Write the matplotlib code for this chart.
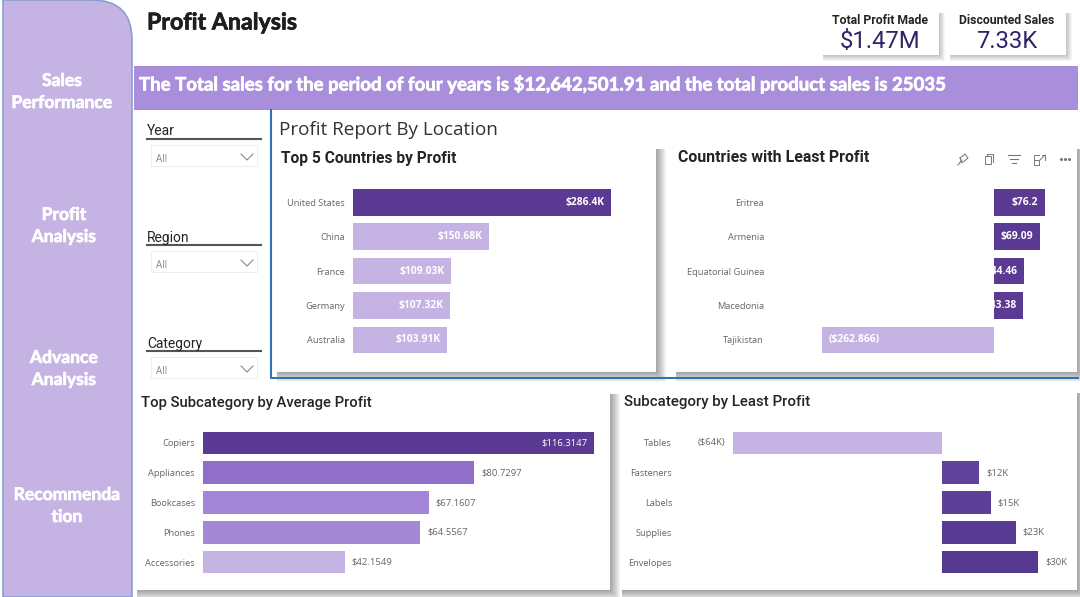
import matplotlib
matplotlib.use("Agg")
import matplotlib.pyplot as plt
import matplotlib.patheffects as pe
from matplotlib.patches import Rectangle, PathPatch
from matplotlib.path import Path

plt.rcParams["font.family"] = ["Open Sans", "DejaVu Sans"]

W, H = 1080, 597
DARK = "#5A3A92"
LIGHT = "#C5B4E3"

# data
top_countries = ["United States", "China", "France", "Germany", "Australia"]
top_profit = [286.4, 150.68, 109.03, 107.32, 103.91]
top_labels = ["$286.4K", "$150.68K", "$109.03K", "$107.32K", "$103.91K"]
top_colors = [DARK, LIGHT, LIGHT, LIGHT, LIGHT]

least_countries = ["Eritrea", "Armenia", "Equatorial Guinea", "Macedonia", "Tajikistan"]
least_profit = [76.2, 69.09, 44.46, 43.38, -262.866]
least_labels = ["$76.2", "$69.09", "$44.46", "$43.38", "($262.866)"]
least_colors = [DARK, DARK, DARK, DARK, LIGHT]

avg_subcats = ["Copiers", "Appliances", "Bookcases", "Phones", "Accessories"]
avg_profit = [116.3147, 80.7297, 67.1607, 64.5567, 42.1549]
avg_labels = ["$116.3147", "$80.7297", "$67.1607", "$64.5567", "$42.1549"]
avg_colors = [DARK, "#8F6FC8", "#A486D8", "#A389D4", LIGHT]

low_subcats = ["Tables", "Fasteners", "Labels", "Supplies", "Envelopes"]
low_profit = [-64, 11.4, 15, 22.6, 29.5]
low_labels = ["($64K)", "$12K", "$15K", "$23K", "$30K"]
low_colors = [LIGHT, "#5F429A", "#5D3F98", "#573A92", "#553890"]

fig = plt.figure(figsize=(W / 100, H / 100), dpi=100, facecolor="white")
bg = fig.add_axes([0, 0, 1, 1])
bg.set_xlim(0, W)
bg.set_ylim(H, 0)
bg.axis("off")


def box(x0, y0, x1, y1, color, **kw):
    bg.add_patch(Rectangle((x0, y0), x1 - x0, y1 - y0, facecolor=color, edgecolor="none", **kw))


def card(x0, y0, x1, y1, spread=10):
    # soft shadow from stacked see-through boxes
    for d in range(spread, 0, -1):
        box(x0 + 2, y0 + 2, x1 + d, y1 + d, "black", alpha=0.04)
    box(x0, y0, x1, y1, "white")


def bar_chart(names, values, labels, colors, left, right, first, step, label_x, inside=False, clip=False, max_inside=False):
    # first / step = pixel centre of first row and row spacing
    top = first - step / 2
    bottom = top + step * len(names)
    ax = fig.add_axes([left / W, 1 - bottom / H, (right - left) / W, (bottom - top) / H])
    ax.patch.set_alpha(0)
    bars = ax.barh(range(len(names)), values, height=0.77, color=colors)
    ax.set_xlim(min(0, min(values)), max(values))
    ax.set_ylim(len(names) - 0.5, -0.5)
    ax.set_yticks(range(len(names)), names)
    ax.set_xticks([])
    ax.tick_params(axis="y", length=0, pad=(left - label_x) * 0.72, labelsize=6.7, labelcolor="#666666")
    for s in ax.spines.values():
        s.set_visible(False)
    for i, (bar, v, lab) in enumerate(zip(bars, values, labels)):
        if inside:
            off = -4.5 if v >= 0 else 4.5
            t = ax.annotate(lab, (v, i), xytext=(off, 0), textcoords="offset points",
                            ha="right" if v >= 0 else "left", va="center", color="white",
                            fontsize=7.4, fontweight="bold")
            if clip:
                t.set_clip_path(bar)
        else:
            on_bar = max_inside and v == max(values)
            off = -5 if (on_bar or v < 0) else 5
            ax.annotate(lab, (v, i), xytext=(off, 0), textcoords="offset points",
                        ha="right" if off < 0 else "left", va="center",
                        color="white" if on_bar else "#666666", fontsize=6.8)
    return ax


# Lato bold comes out thinner than the reference, so thicken it a little
thick = [pe.withStroke(linewidth=0.5, foreground="white")]

# sidebar with rounded top right corner
side = Path([(3, 597), (3, 0), (92, 0), (132, 0), (132, 40), (132, 597), (3, 597)],
            [Path.MOVETO, Path.LINETO, Path.LINETO, Path.CURVE3, Path.CURVE3, Path.LINETO, Path.CLOSEPOLY])
bg.add_patch(PathPatch(side, facecolor=LIGHT, edgecolor="#8A9FD0", lw=1.2))
side_text = [("Sales", 62, 81), ("Performance", 62, 103), ("Profit", 64, 215), ("Analysis", 64, 237),
             ("Advance", 64, 358), ("Analysis", 64, 380), ("Recommenda", 67, 495), ("tion", 67, 517)]
for txt, x, y in side_text:
    bg.text(x, y, txt, ha="center", va="center", family="Lato", color="white", fontsize=12.6,
            fontweight="bold", path_effects=thick)

bg.text(147, 23, "Profit Analysis", family="Lato", fontsize=16.7, fontweight="bold", color="#1E1E1E", va="center",
        path_effects=[pe.withStroke(linewidth=0.5, foreground="#1E1E1E")])

# KPI cards
for x0, x1, name, val in [(821, 939, "Total Profit Made", "$1.47M"), (948, 1066, "Discounted Sales", "7.33K")]:
    card(x0, 11, x1, 55, spread=6)
    xc = (x0 + x1) / 2
    bg.text(xc, 20, name, ha="center", va="center", family="Roboto", fontsize=8.8, fontweight="bold", color="#252423")
    bg.text(xc, 42, val, ha="center", va="center", family="Roboto", fontsize=17.2, color="#2F2466")

# banner
box(134, 66, 1078, 110, "#A98FDB")
bg.text(139, 84, "The Total sales for the period of four years is $12,642,501.91 and the total product sales is 25035",
        family="Lato", color="white", fontsize=13.4, fontweight="bold", va="center", path_effects=thick)

# slicers
for name, yl, yb in [("Year", 131, 139), ("Region", 238, 245), ("Category", 344, 351)]:
    bg.text(147, yl, name, family="Roboto", fontsize=10, color="#252423", va="center")
    bg.plot([147, 261], [yb, yb], color="#555555", lw=1.5)
    bg.add_patch(Rectangle((151, yb + 6), 106, 21, facecolor="white", edgecolor="#EEEEEE", lw=0.7))
    bg.text(156, yb + 20, "All", fontsize=7, color="#888888", va="center")
    bg.plot([241, 247, 253], [yb + 15, yb + 21, yb + 15], color="#888888", lw=0.8)

bg.text(279, 130, "Profit Report By Location", fontsize=13.6, color="#333333", va="center")

card(275, 147, 656, 372)
card(674, 147, 1077, 372)
card(135, 392, 610, 590)
card(620, 391, 1077, 590)

# blue focus frame around the location section
bg.plot([271, 271, 1078], [110, 378, 378], color="#2E75B6", lw=1.5, zorder=3)

bg.text(281, 158, "Top 5 Countries by Profit", family="Roboto", fontsize=11.2, fontweight="bold", color="#252423", va="center")
bg.text(678, 158, "Countries with Least Profit", family="Roboto", fontsize=11.4, fontweight="bold", color="#252423", va="center")
bg.text(141, 403, "Top Subcategory by Average Profit", family="Roboto", fontsize=10.6, fontweight="medium", color="#252423", va="center")
bg.text(624, 402, "Subcategory by Least Profit", family="Roboto", fontsize=10.8, fontweight="medium", color="#252423", va="center")

# little toolbar icons on the hovered visual
ic = "#777777"
bg.plot([958, 962], [165, 160], color=ic, lw=0.8)
bg.plot([960, 965, 968, 962, 960], [158, 154, 158, 163, 158], color=ic, lw=0.7)
bg.add_patch(Rectangle((985, 156), 6, 8, fill=False, edgecolor=ic, lw=0.7))
bg.plot([987, 987, 993, 993], [156, 154, 154, 162], color=ic, lw=0.7)
for y, a, b in [(155, 1008, 1020), (159, 1010, 1018), (163, 1012, 1016)]:
    bg.plot([a, b], [y, y], color=ic, lw=0.8)
bg.plot([1039, 1034, 1034, 1039, 1039, 1034], [155, 155, 165, 165, 160, 160], color=ic, lw=0.7)
bg.plot([1042, 1045, 1045], [155, 155, 160], color=ic, lw=0.7)
bg.plot([1040, 1045], [160, 155], color=ic, lw=0.7)
bg.plot([1061, 1065, 1069], [159, 159, 159], ls="none", marker="o", ms=1.2, color=ic)

bar_chart(top_countries, top_profit, top_labels, top_colors, 353, 611, 202.3, 34.4, 345, inside=True)
bar_chart(least_countries, least_profit, least_labels, least_colors, 822, 1044.5, 202.3, 34.4, 764, inside=True, clip=True)
bar_chart(avg_subcats, avg_profit, avg_labels, avg_colors, 203, 594, 443, 29.75, 195, max_inside=True)
bar_chart(low_subcats, low_profit, low_labels, low_colors, 732.5, 1038.3, 443, 29.75, 672)

fig.savefig("out.png", dpi=100)
